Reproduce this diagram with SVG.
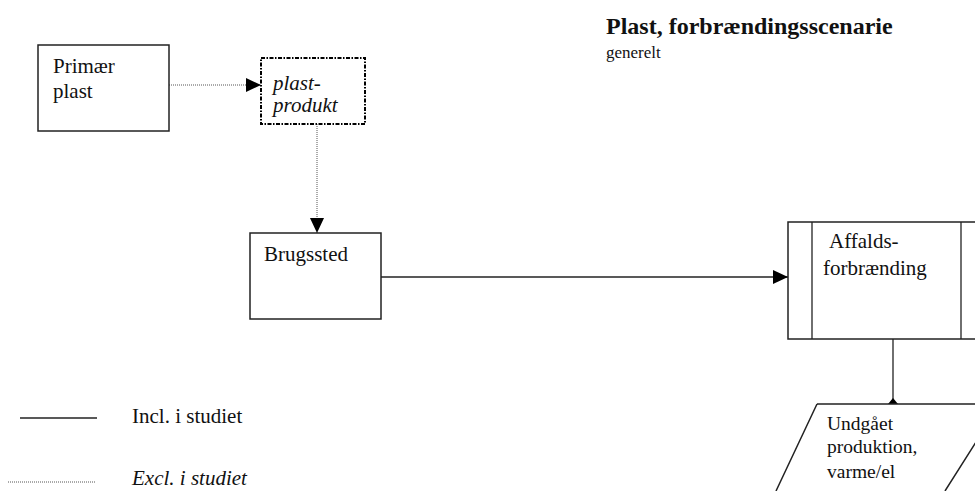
<svg xmlns="http://www.w3.org/2000/svg" width="975" height="491" viewBox="0 0 975 491">
<defs>
<style>
.t{font-family:"Liberation Serif","Times New Roman",serif;font-size:21px;fill:#111}
.i{font-style:italic}
.box{fill:#fff;stroke:#222;stroke-width:1.5}
.solid{fill:none;stroke:#222;stroke-width:1.3}
.dot{fill:none;stroke:#555;stroke-width:1;stroke-dasharray:1 1}
</style>
<marker id="ah" viewBox="0 0 15 14" refX="15" refY="7" markerWidth="15" markerHeight="14" markerUnits="userSpaceOnUse" orient="auto">
<path d="M0,0 L15,7 L0,14 Z" fill="#000"/>
</marker>
<marker id="dm" viewBox="0 0 10 12" refX="5" refY="6" markerWidth="10" markerHeight="12" markerUnits="userSpaceOnUse" orient="0">
<path d="M5,0 L10,6 L5,12 L0,6 Z" fill="#000"/>
</marker>
</defs>
<rect width="975" height="491" fill="#fff"/>

<g id="title">
<text x="606" y="34" class="t" style="font-weight:bold;font-size:24px">Plast, forbrændingsscenarie</text>
<text x="606" y="58" class="t" style="font-size:17px">generelt</text>
</g>

<g id="connectors">
<line class="dot" x1="169" y1="85" x2="261" y2="85" marker-end="url(#ah)"/>
<line class="dot" x1="317" y1="124" x2="317" y2="233" marker-end="url(#ah)"/>
<line class="solid" x1="381" y1="277" x2="788" y2="277" marker-end="url(#ah)"/>
<line class="solid" x1="893" y1="339" x2="893" y2="404" marker-end="url(#dm)"/>
</g>

<g id="primaer-plast">
<rect class="box" x="38" y="45" width="131" height="86"/>
<text class="t" x="53" y="73">Primær</text>
<text class="t" x="53" y="98">plast</text>
</g>

<g id="plast-produkt">
<rect x="261" y="58" width="104" height="66" fill="#fff" stroke="#000" stroke-width="2" stroke-dasharray="4 1.5 1.5 1.5"/>
<text class="t i" x="273" y="90">plast-</text>
<text class="t i" x="273" y="112">produkt</text>
</g>

<g id="brugssted">
<rect class="box" x="250" y="233" width="131" height="86"/>
<text class="t" x="264" y="261">Brugssted</text>
</g>

<g id="affaldsforbraending">
<rect class="box" x="788" y="222" width="200" height="117"/>
<line class="solid" x1="812" y1="222" x2="812" y2="339"/>
<line class="solid" x1="961" y1="222" x2="961" y2="339"/>
<text class="t" x="829" y="248">Affalds-</text>
<text class="t" x="823" y="275">forbrænding</text>
</g>

<g id="undgaaet">
<path class="box" d="M817,404 L1000,404 L945,491 M817,404 L776,491" fill="none"/>
<text class="t" style="font-size:19.5px" x="827" y="430">Undgået</text>
<text class="t" style="font-size:19.5px" x="827" y="453">produktion,</text>
<text class="t" style="font-size:19.5px" x="827" y="478">varme/el</text>
</g>

<g id="legend">
<line class="solid" x1="20" y1="418" x2="97" y2="418"/>
<text class="t" x="132" y="423">Incl. i studiet</text>
<line class="dot" x1="8" y1="482" x2="95" y2="482"/>
<text class="t i" x="132" y="485">Excl. i studiet</text>
</g>
</svg>
